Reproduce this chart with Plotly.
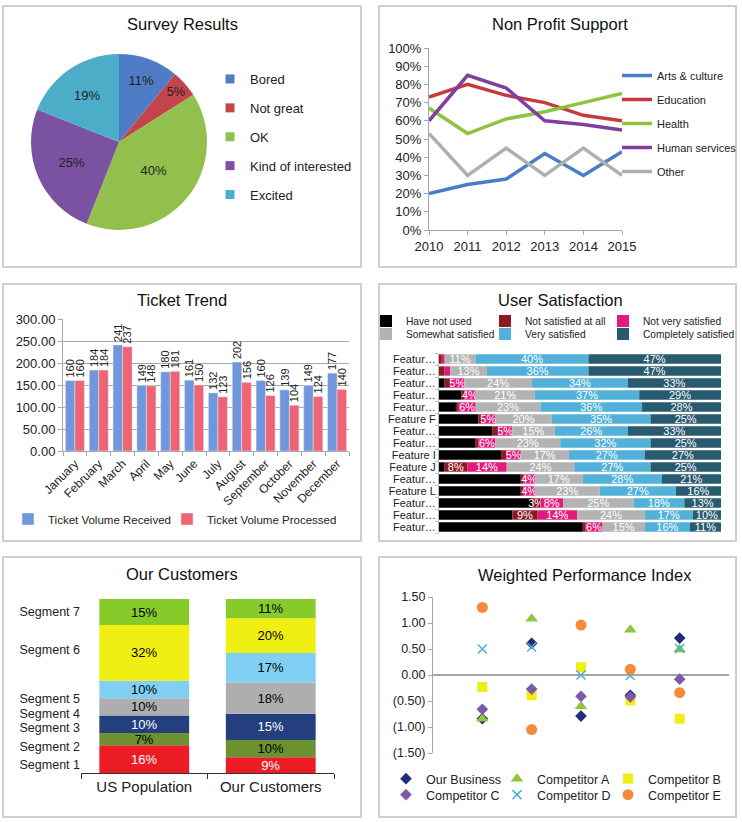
import plotly.graph_objects as go
import numpy as np

W, H = 742, 822
FONT = "Liberation Sans, Arial, Helvetica, sans-serif"


def fx(p):
    return p / W


def fy(p):
    return 1 - p / H


# ---------------- DATA ----------------
# Survey Results (pie)
survey_labels = ["Bored", "Not great", "OK", "Kind of interested", "Excited"]
survey_values = [11, 5, 40, 25, 19]
survey_colors = ["#4F7CC4", "#C3444A", "#93C04C", "#7A52A1", "#4BADC8"]

# Non Profit Support (lines)
years = [2010, 2011, 2012, 2013, 2014, 2015]
support_names = ["Arts & culture", "Education", "Health", "Human services", "Other"]
arts_culture = [0.20, 0.25, 0.28, 0.42, 0.30, 0.43]
education = [0.73, 0.80, 0.74, 0.70, 0.63, 0.60]
health = [0.67, 0.53, 0.61, 0.65, 0.70, 0.75]
human_services = [0.60, 0.85, 0.78, 0.60, 0.58, 0.55]
other = [0.53, 0.30, 0.45, 0.30, 0.45, 0.30]
support_colors = ["#4A7DC8", "#C43A3E", "#8CC43F", "#7E3F9E", "#AFAFAF"]

# Ticket Trend (grouped bars)
months = ["January", "February", "March", "April", "May", "June", "July",
          "August", "September", "October", "November", "December"]
tickets_received = [160, 184, 241, 149, 180, 161, 132, 202, 160, 139, 149, 177]
tickets_processed = [160, 184, 237, 148, 181, 150, 123, 156, 126, 104, 124, 140]

# User Satisfaction (stacked horizontal bars)
features = ["Feature A", "Feature B", "Feature C", "Feature D", "Feature E",
            "Feature F", "Feature G", "Feature H", "Feature I", "Feature J",
            "Feature K", "Feature L", "Feature M", "Feature N", "Feature O"]
feature_ticks = ["Featur…", "Featur…", "Featur…", "Featur…", "Featur…",
                 "Feature F", "Featur…", "Featur…", "Feature I", "Feature J",
                 "Featur…", "Feature L", "Featur…", "Featur…", "Featur…"]
have_not_used = [0, 0, 2, 8, 6, 14, 19, 13, 22, 2, 29, 29, 33, 26, 51]
not_satisfied_at_all = [1, 2, 2, 1, 1, 1, 2, 1, 2, 8, 1, 1, 3, 9, 1]
not_very_satisfied = [1, 2, 5, 4, 6, 5, 5, 6, 5, 14, 4, 4, 8, 14, 6]
somewhat_satisfied = [11, 13, 24, 21, 23, 20, 15, 23, 17, 24, 17, 23, 25, 24, 15]
very_satisfied = [40, 36, 34, 37, 36, 35, 26, 32, 27, 27, 28, 27, 18, 17, 16]
completely_satisfied = [47, 47, 33, 29, 28, 25, 33, 25, 27, 25, 21, 16, 13, 10, 11]
sat_names = ["Have not used", "Not satisfied at all", "Not very satisfied",
             "Somewhat satisfied", "Very satisfied", "Completely satisfied"]
sat_colors = ["#000000", "#8B1A22", "#E3197B", "#B3B3B3", "#52B1D8", "#285A70"]

# Our Customers (stacked columns)
customer_groups = ["US Population", "Our Customers"]
segments = ["Segment 1", "Segment 2", "Segment 3", "Segment 4",
            "Segment 5", "Segment 6", "Segment 7"]
us_population = [16, 7, 10, 10, 10, 32, 15]
our_customers = [9, 10, 15, 18, 17, 20, 11]
segment_colors = ["#EC1C24", "#6B9131", "#233F7D", "#AFAEAE", "#80D0F3", "#EFEF14", "#86CB2A"]
segment_text_colors = ["white", "black", "white", "black", "black", "black", "black"]
segment_label_pos = [4.6, 14.9, 26.0, 34.2, 42.8, 70.7, 92.5]

# Weighted Performance Index (scatter)
wpi_x = [1, 2, 3, 4, 5]
our_business = [-0.84, 0.61, -0.79, -0.39, 0.71]
competitor_a = [-0.84, 1.08, -0.60, 0.87, 0.49]
competitor_b = [-0.23, -0.39, 0.15, -0.49, -0.84]
competitor_c = [-0.66, -0.27, -0.41, -0.42, -0.08]
competitor_d = [0.50, 0.54, 0.00, -0.01, 0.51]
competitor_e = [1.30, -1.05, 0.96, 0.11, -0.34]
wpi_ticks = [-1.5, -1.0, -0.5, 0.0, 0.5, 1.0, 1.5]
wpi_ticktext = [f"({abs(v):.2f})" if v < 0 else f"{v:.2f}" for v in wpi_ticks]

# ---------------- LEGEND PLACEMENT (pixels of the symbol centre) ----------------
ticket_legend_pos = [(28, 519), (187, 519)]
sat_legend_pos = [(386, 321), (505, 321), (623, 321), (386, 334), (505, 334), (623, 334)]
wpi_legend_pos = [(406, 779), (517, 779), (628, 779), (406, 795), (517, 795), (628, 795)]

legends = {}


def item_legend(key, px, py, size):
    legends[key] = dict(bgcolor="rgba(0,0,0,0)", borderwidth=0, xanchor="left",
                        yanchor="middle", x=fx(px - 20), y=fy(py), orientation="h",
                        font=dict(size=size, color="#222", family=FONT))
    return key


# ---------------- FIGURE ----------------
fig = go.Figure()

# Panel 1: pie
fig.add_trace(go.Pie(
    labels=survey_labels, values=survey_values, sort=False, direction="clockwise",
    rotation=0, marker=dict(colors=survey_colors, line=dict(width=0)),
    textinfo="percent", textposition="inside", insidetextorientation="horizontal",
    textfont=dict(size=13, color="#222"), showlegend=False,
    domain=dict(x=[fx(31), fx(207)], y=[fy(230), fy(54)]),
    hoverinfo="label+percent",
))
for i, (lab, col) in enumerate(zip(survey_labels, survey_colors)):
    fig.add_trace(go.Scatter(
        x=[None], y=[None], mode="markers", name=lab,
        marker=dict(symbol="square", size=9, color=col),
        legend="legend", legendgroup=f"pie{i}", xaxis="x5", yaxis="y5",
    ))

# Panel 2: lines
for name, vals, col in zip(support_names,
                           [arts_culture, education, health, human_services, other],
                           support_colors):
    fig.add_trace(go.Scatter(
        x=years, y=vals, mode="lines", name=name,
        line=dict(color=col, width=3.5), legend="legend2", legendgroup=name,
        xaxis="x", yaxis="y",
    ))

# Panel 3: ticket bars
ticket_specs = [("Ticket Volume Received", tickets_received, "#7097DC", -0.4),
                ("Ticket Volume Processed", tickets_processed, "#EE6474", 0.0)]
for j, (name, vals, col, off) in enumerate(ticket_specs):
    px, py = ticket_legend_pos[j]
    fig.add_trace(go.Bar(
        x=months, y=vals, name=name, marker=dict(color=col), offset=off, width=0.4,
        text=vals, textposition="outside", textangle=-90, constraintext="none",
        textfont=dict(size=11, color="#222"), cliponaxis=False,
        xaxis="x2", yaxis="y2", legend=item_legend(f"legend{3 + j}", px, py, 11.5),
    ))

# Panel 4: user satisfaction stacked bars
sat_series = [have_not_used, not_satisfied_at_all, not_very_satisfied,
              somewhat_satisfied, very_satisfied, completely_satisfied]
cum = np.zeros(len(features))
for k, (name, vals, col) in enumerate(zip(sat_names, sat_series, sat_colors)):
    vals = np.array(vals, dtype=float)
    if k == 0:
        txt = ["" for _ in vals]
    else:
        txt = [f"{int(v)}%" if v >= 3 else "" for v in vals]
    px, py = sat_legend_pos[k]
    fig.add_trace(go.Bar(
        y=features, x=vals, base=cum.copy(), orientation="h", name=name,
        marker=dict(color=col, line=dict(width=0)), width=0.78,
        text=txt, textposition="inside", insidetextanchor="middle", textangle=0,
        constraintext="none", textfont=dict(size=11, color="white"),
        xaxis="x3", yaxis="y3", legend=item_legend(f"legend{5 + k}", px, py, 10.2),
    ))
    cum += vals

# Panel 5: our customers stacked columns
cum = np.zeros(2)
for seg, u, o, col, tcol in zip(segments, us_population, our_customers,
                                segment_colors, segment_text_colors):
    vals = np.array([u, o], dtype=float)
    fig.add_trace(go.Bar(
        x=customer_groups, y=vals, base=cum.copy(), name=seg,
        marker=dict(color=col, line=dict(width=0)), width=0.71,
        text=[f"{int(v)}%" for v in vals], textposition="inside",
        insidetextanchor="middle", textangle=0, constraintext="none",
        textfont=dict(size=13, color=tcol), showlegend=False,
        xaxis="x4", yaxis="y4",
    ))
    cum += vals

# Panel 6: scatter
wpi_series = [
    ("Our Business", our_business, dict(symbol="diamond", size=9, color="#1F2C78")),
    ("Competitor A", competitor_a, dict(symbol="triangle-up", size=11, color="#8DC63F")),
    ("Competitor B", competitor_b, dict(symbol="square", size=10, color="#EEEE10")),
    ("Competitor C", competitor_c, dict(symbol="diamond", size=9, color="#7F58A8")),
    ("Competitor D", competitor_d, dict(symbol="x-thin", size=9, color="#4DAFD0",
                                        line=dict(width=1.5, color="#4DAFD0"))),
    ("Competitor E", competitor_e, dict(symbol="circle", size=11, color="#F58A3A")),
]
for k, (name, vals, mk) in enumerate(wpi_series):
    px, py = wpi_legend_pos[k]
    fig.add_trace(go.Scatter(
        x=wpi_x, y=vals, mode="markers", name=name, marker=mk,
        xaxis="x5", yaxis="y5", cliponaxis=False,
        legend=item_legend(f"legend{11 + k}", px, py, 12.5),
    ))

# ---------------- LAYOUT ----------------
axis_gray = "#A6A6A6"
tickfont = dict(size=13, color="#222", family=FONT)

layout = dict(
    width=W, height=H, margin=dict(l=0, r=0, t=0, b=0, autoexpand=False),
    paper_bgcolor="white", plot_bgcolor="rgba(0,0,0,0)",
    font=dict(family=FONT, color="#222"),
    barmode="overlay", showlegend=True,
    # line chart
    xaxis=dict(domain=[fx(429), fx(622)], range=[2010, 2015], dtick=1, showline=True,
               linecolor=axis_gray, ticks="outside", ticklen=4, tickcolor=axis_gray,
               showgrid=False, zeroline=False, tickfont=tickfont, anchor="y",
               automargin=False),
    yaxis=dict(domain=[fy(230), fy(48)], range=[0, 1], dtick=0.1, tickformat=".0%",
               showline=True, linecolor=axis_gray, ticks="outside", ticklen=4,
               tickcolor=axis_gray, showgrid=False, zeroline=False, tickfont=tickfont,
               anchor="x", automargin=False),
    # ticket chart
    xaxis2=dict(domain=[fx(63), fx(349)], type="category", range=[-0.5, 11.5],
                tickangle=-45, tickfont=dict(size=12, color="#222", family=FONT),
                showline=True, linecolor=axis_gray, ticks="outside", tickson="boundaries",
                ticklen=4, tickcolor=axis_gray, showgrid=False, anchor="y2",
                automargin=False),
    yaxis2=dict(domain=[fy(451), fy(319)], range=[0, 300], dtick=50, tickformat=".2f",
                showline=True, linecolor=axis_gray, ticks="outside", ticklen=4,
                tickcolor=axis_gray, showgrid=True, gridcolor="#A8A8A8", gridwidth=1,
                zeroline=False, tickfont=tickfont, anchor="x2", automargin=False),
    # user satisfaction
    xaxis3=dict(domain=[fx(439), fx(721)], range=[0, 100], visible=False, anchor="y3"),
    yaxis3=dict(domain=[fy(533), fy(353)], type="category", autorange="reversed",
                tickvals=features, ticktext=feature_ticks,
                tickfont=dict(size=11, color="#222", family=FONT), showline=True,
                linecolor="#BBBBBB", ticks="outside", ticklen=3, tickcolor="#BBBBBB",
                tickson="boundaries", showgrid=False, anchor="x3", automargin=False),
    # our customers
    xaxis4=dict(domain=[fx(81), fx(334)], type="category", range=[-0.5, 1.5],
                showline=True, linecolor="#333", ticks="outside", tickson="boundaries",
                ticklen=5, tickcolor="#333", showgrid=False, tickangle=0,
                tickfont=dict(size=15, color="#222", family=FONT), anchor="y4",
                automargin=False),
    yaxis4=dict(domain=[fy(773), fy(599)], range=[0, 100], tickvals=segment_label_pos,
                ticktext=segments, showline=False, showgrid=False, zeroline=False,
                ticks="", tickfont=dict(size=12.5, color="#222", family=FONT), anchor="x4",
                automargin=False),
    # weighted performance
    xaxis5=dict(domain=[fx(433), fx(729)], range=[0, 6], visible=False, anchor="y5"),
    yaxis5=dict(domain=[fy(753), fy(597)], range=[-1.5, 1.5], tickvals=wpi_ticks,
                ticktext=wpi_ticktext, showline=True, linecolor=axis_gray, ticks="outside",
                ticklen=4, tickcolor=axis_gray, showgrid=False, zeroline=True,
                zerolinecolor=axis_gray, zerolinewidth=1.5,
                tickfont=dict(size=12.5, color="#222", family=FONT), anchor="x5",
                automargin=False),
)

leg_common = dict(bgcolor="rgba(0,0,0,0)", borderwidth=0, xanchor="left")
layout["legend"] = dict(**leg_common, x=fx(210), y=fy(64), yanchor="top",
                        orientation="v", tracegroupgap=9,
                        font=dict(size=13, color="#222", family=FONT))
layout["legend2"] = dict(**leg_common, x=fx(617), y=fy(61), yanchor="top",
                         orientation="v", tracegroupgap=5,
                         font=dict(size=11, color="#222", family=FONT))
layout.update(legends)

# panel borders
panels = [(3, 6, 361, 267), (379, 6, 736, 267), (3, 284, 361, 541),
          (379, 284, 736, 541), (3, 557, 361, 817), (379, 557, 736, 817)]
shapes = []
for x0, y0, x1, y1 in panels:
    shapes.append(dict(type="rect", xref="paper", yref="paper",
                       x0=fx(x0), x1=fx(x1), y0=fy(y1), y1=fy(y0),
                       line=dict(color="#CFCFCF", width=2), layer="below"))
layout["shapes"] = shapes

titles = [("Survey Results", 182, 24), ("Non Profit Support", 560, 24),
          ("Ticket Trend", 182, 300), ("User Satisfaction", 560, 300),
          ("Our Customers", 182, 574), ("Weighted Performance Index", 585, 575)]
layout["annotations"] = [
    dict(text=t, x=fx(x), y=fy(y), xref="paper", yref="paper", showarrow=False,
         xanchor="center", yanchor="middle",
         font=dict(size=16.5, color="#111", family=FONT))
    for t, x, y in titles
]

fig.update_layout(**layout)
fig.write_html(
    "out.html",
    config={"displayModeBar": False},
    post_script="document.body.style.margin='0';document.body.style.overflow='hidden';",
)
